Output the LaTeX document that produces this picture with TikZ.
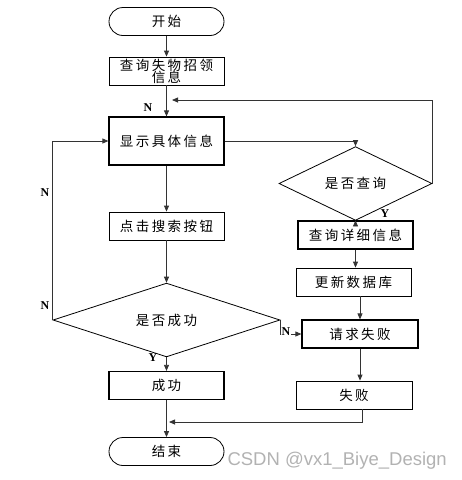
\documentclass[tikz,border=0pt]{standalone}
\usepackage{fontspec}
\newfontfamily\cjk[LetterSpace=18]{Noto Sans CJK SC}
\newfontfamily\wm{Liberation Sans}
\setmainfont{Liberation Serif}
\usetikzlibrary{shapes.geometric,arrows.meta}
\tikzset{
  box/.style={draw=black, line width=1.2pt, rectangle, minimum width=115pt, minimum height=28pt, inner sep=1pt, font=\cjk\fontsize{13.5}{15}\selectfont, align=center},
  term/.style={box, line width=0.8pt, rounded corners=14pt},
  dia/.style={draw=black, line width=0.8pt, diamond, inner sep=0pt, font=\cjk\fontsize{13.5}{15}\selectfont},
  arr/.style={draw=black!80, line width=0.8pt, -{Triangle[length=6pt,width=5pt]}},
  lbl/.style={font=\bfseries\fontsize{12}{13}\selectfont, inner sep=1pt}
}
\begin{document}
\begin{tikzpicture}[x=1pt,y=-1pt]
\useasboundingbox (0,0) rectangle (462,480);
\node[term] (start) at (166.5,21.5) {开始};
\node[box, line width=0.8pt, minimum height=28pt] (q1) at (166.5,71) {查询失物招领\\[-3pt]信息};
\node[box, minimum height=48pt] (show) at (166.5,141) {显示具体信息};
\node[box, line width=0.8pt] (click) at (166.5,226) {点击搜索按钮};
\node[dia, minimum width=227pt, minimum height=46pt] (dsucc) at (166.5,320) {是否成功};
\node[box] (succ) at (166.5,385.5) {成功};
\node[term] (end) at (166.5,451.5) {结束};
\node[dia, minimum width=153pt, minimum height=47pt] (dq) at (355.5,183.5) {是否查询};
\node[box] (detail) at (355.5,235) {查询详细信息};
\node[box, line width=0.8pt] (update) at (353.5,282) {更新数据库};
\node[box, minimum width=116pt] (freq) at (360,334) {请求失败};
\node[box, line width=0.8pt, minimum width=116pt] (fail) at (354,395) {失败};
\coordinate (r1) at (172,100);
\coordinate (m1) at (169,422);
\draw[arr] (start) -- (q1);
\draw[arr] (q1) -- (show);
\draw[arr] (show) -- (click);
\draw[arr] (click) -- (dsucc.north);
\draw[arr] (dsucc.south) -- (succ);
\draw[arr] (succ) -- (end);
\draw[arr] (show.east) -| (dq.north);
\draw[arr] (dq.east) |- (r1);
\draw[arr] (dsucc.west) |- (show.west);
\draw[arr] (dq.south) -- (dq.south |- detail.north);
\draw[arr] (detail.south) -- (detail.south |- update.north);
\draw[arr] (freq.north |- update.south) -- (freq.north);
\draw[arr] (freq.south) -- (freq.south |- fail.north);
\draw[arr] (dsucc.east) |- (freq.west);
\draw[arr] ([xshift=8pt]fail.south) |- (m1);
\node[lbl] (n1) at (148,108) {N};
\node[lbl] (n2) at (45,193) {N};
\node[lbl] (n3) at (45,306) {N};
\node[lbl, fill=white] (n4) at (286,332) {N};
\node[lbl] (y1) at (153,358) {Y};
\node[lbl] (y2) at (385,214) {Y};
\node[font=\wm\fontsize{18.5}{20}\selectfont, text=black!30, anchor=east, inner sep=0pt] (wm) at (447,461) {CSDN @vx1\_Biye\_Design};
\end{tikzpicture}
\end{document}
